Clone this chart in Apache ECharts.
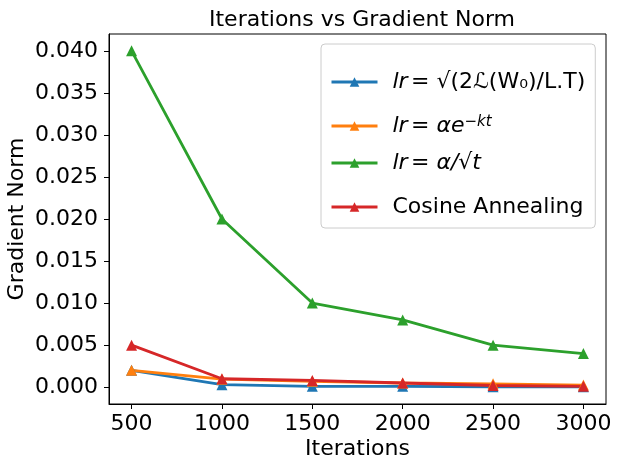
<!DOCTYPE html>
<html>
<head>
<meta charset="utf-8">
<script src="https://cdn.jsdelivr.net/npm/echarts@6/dist/echarts.min.js"></script>
<style>
  html, body { margin: 0; padding: 0; background: #fff; }
  #chart { width: 621px; height: 469px; }
</style>
</head>
<body>
<div id="chart"></div>
<script>
const chart = echarts.init(document.querySelector('#chart'));

// data
const iterations = [500, 1000, 1500, 2000, 2500, 3000];
const sqrtLoss = [0.0020, 0.0003, 0.0001, 0.0001, 0.00005, 0.00005];
const expDecay = [0.0020, 0.00095, 0.0007, 0.0005, 0.0004, 0.00025];
const invSqrt = [0.040, 0.020, 0.010, 0.008, 0.005, 0.004];
const cosine = [0.0050, 0.0010, 0.0008, 0.0005, 0.0002, 0.0001];
const xTicks = [500, 1000, 1500, 2000, 2500, 3000];
const yTicks = [0, 0.005, 0.010, 0.015, 0.020, 0.025, 0.030, 0.035, 0.040];

const names = ['sqrt', 'exp', 'inv', 'Cosine Annealing'];
const colors = ['#1f77b4', '#ff7f0e', '#2ca02c', '#d62728'];
// vertical padding of each legend row (the formula rows are taller in the original)
const rowPad = [11, 3, 4, 10];

const font = 'DejaVu Sans';
const fs = 22;

const pairs = (ys) => iterations.map((x, i) => [x, ys[i]]);

const makeSeries = (name, ys, color) => ({
    name: name,
    type: 'line',
    data: pairs(ys),
    symbol: 'triangle',
    symbolSize: 11,
    showSymbol: true,
    lineStyle: { width: 2.8, color: color },
    itemStyle: { color: color },
    emphasis: { disabled: true },
    animation: false
});

const legendText = (name) => {
    if (name === 'sqrt') return '{it|lr} {n|= √(2ℒ(W₀)/L.T)}';
    if (name === 'exp') return '{it|lr} {n|= }{it|αe}{sup|−kt}';
    if (name === 'inv') return '{it|lr} {n|= }{it|α/√t}';
    return '{n|' + name + '}';
};

chart.setOption({
    backgroundColor: '#fff',
    title: {
        text: 'Iterations vs Gradient Norm',
        left: 357,
        textAlign: 'center',
        top: 4,
        textStyle: { fontFamily: font, fontSize: fs, fontWeight: 'normal', color: '#000' }
    },
    grid: {
        left: 109,
        right: 15,
        top: 34,
        bottom: 65,
        outerBoundsMode: 'none',
        containLabel: false,
        show: true,
        borderColor: '#000',
        borderWidth: 1,
        backgroundColor: 'transparent'
    },
    legend: {
        orient: 'vertical',
        left: 321,
        top: 44,
        padding: [16, 10, 0, 9],
        itemGap: 8,
        itemWidth: 46,
        itemHeight: 12,
        backgroundColor: '#fff',
        borderColor: '#cccccc',
        borderWidth: 1,
        borderRadius: 4,
        lineStyle: { width: 3 },
        data: names.map((n, i) => ({
            name: n,
            textStyle: {
                padding: [rowPad[i], 0, rowPad[i], 10],
                backgroundColor: 'rgba(255,255,255,0)'
            }
        })),
        formatter: legendText,
        textStyle: {
            rich: {
                it: { fontFamily: font, fontSize: fs, fontStyle: 'italic', color: '#000' },
                n: { fontFamily: font, fontSize: fs, color: '#000' },
                sup: { fontFamily: font, fontSize: 15, fontStyle: 'italic', color: '#000', lineHeight: 14, verticalAlign: 'top' }
            }
        }
    },
    xAxis: {
        type: 'value',
        min: 375,
        max: 3125,
        name: 'Iterations',
        nameLocation: 'middle',
        nameGap: 34,
        nameMoveOverlap: false,
        nameTextStyle: { fontFamily: font, fontSize: fs, color: '#000' },
        axisLine: { show: true, onZero: false, lineStyle: { color: '#000', width: 1 } },
        axisTick: { show: true, length: 5, lineStyle: { color: '#000' }, customValues: xTicks },
        axisLabel: {
            fontFamily: font, fontSize: fs, color: '#000', margin: 9,
            customValues: xTicks,
            formatter: (v) => String(v)
        },
        splitLine: { show: false }
    },
    yAxis: {
        type: 'value',
        min: -0.002,
        max: 0.042,
        name: 'Gradient Norm',
        nameLocation: 'middle',
        nameGap: 81,
        nameMoveOverlap: false,
        nameTextStyle: { fontFamily: font, fontSize: fs, color: '#000' },
        axisLine: { show: true, onZero: false, lineStyle: { color: '#000', width: 1 } },
        axisTick: { show: true, length: 5, lineStyle: { color: '#000' }, customValues: yTicks },
        axisLabel: {
            fontFamily: font, fontSize: fs, color: '#000', margin: 11,
            customValues: yTicks,
            formatter: (v) => v.toFixed(3)
        },
        splitLine: { show: false }
    },
    series: [
        makeSeries(names[0], sqrtLoss, colors[0]),
        makeSeries(names[1], expDecay, colors[1]),
        makeSeries(names[2], invSqrt, colors[2]),
        makeSeries(names[3], cosine, colors[3])
    ]
});
</script>
</body>
</html>
